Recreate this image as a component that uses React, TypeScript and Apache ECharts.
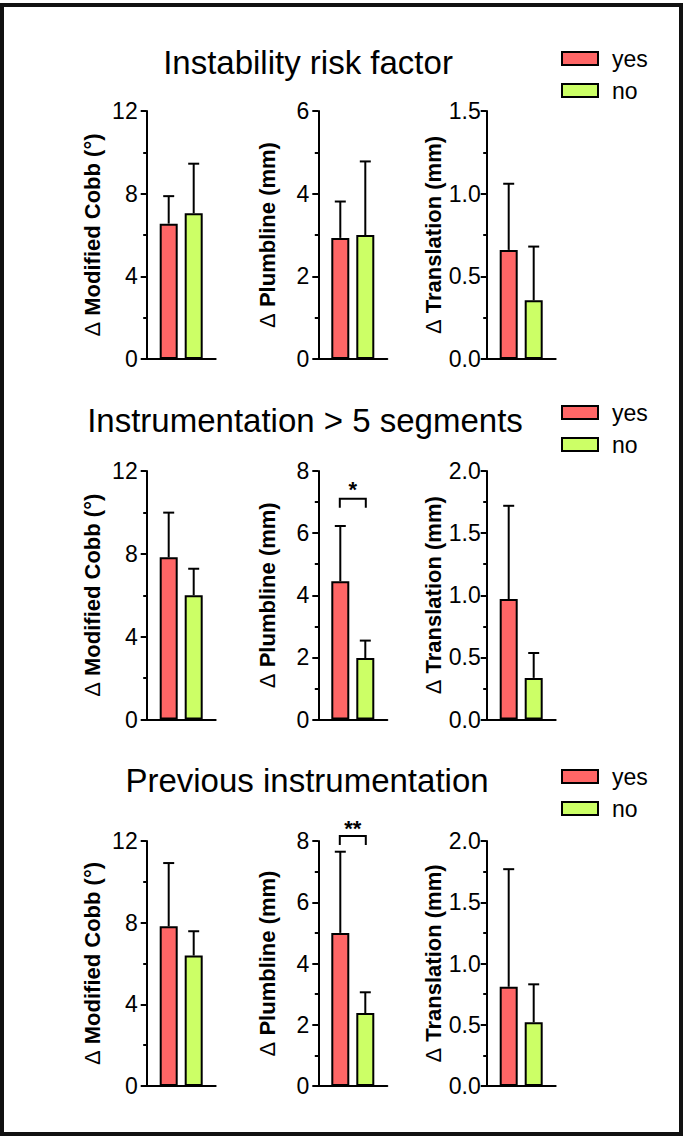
import React, { useEffect, useRef } from "react";
import * as echarts from "echarts";

// ---------- data ----------
const rowTitles = ["Instability risk factor", "Instrumentation > 5 segments", "Previous instrumentation"];
const groups = ["yes", "no"];
const measureNames = ["Modified Cobb (°)", "Plumbline (mm)", "Translation (mm)"];
// rows: instability, instrumentation>5, previous instrumentation; cols: Cobb, Plumbline, Translation
const yesMeans = [
  [6.55, 2.93, 0.66],
  [7.83, 4.45, 0.97],
  [7.82, 5.0, 0.81],
];
const yesSD = [
  [1.33, 0.88, 0.4],
  [2.16, 1.78, 0.75],
  [3.1, 2.65, 0.96],
];
const noMeans = [
  [7.05, 3.0, 0.355],
  [6.0, 1.98, 0.335],
  [6.39, 2.38, 0.52],
];
const noSD = [
  [2.4, 1.78, 0.325],
  [1.28, 0.56, 0.2],
  [1.19, 0.68, 0.31],
];
const axisMax = [
  [12, 6, 1.5],
  [12, 8, 2],
  [12, 8, 2],
];
const axisInterval = [
  [4, 2, 0.5],
  [4, 2, 0.5],
  [4, 2, 0.5],
];
const sigRow = [1, 2];
const sigCol = [1, 1];
const sigLabel = ["*", "**"];
const sigLevel = [7.11, 8.16];
const sigDrop = [6.82, 7.87];
const sigTextLevel = [7.53, 8.55];

// ---------- layout ----------
const FONT = "'Liberation Sans', Arial, Helvetica, sans-serif";
const RED = "#FF6666";
const GREEN = "#CCFF66";
const rowTop = [111, 471, 841];
const rowBottom = [359, 719.5, 1086];
const colLeft = [146.7, 318.3, 486.7];
const gridWidth = 69;
const BAR_W = 18;
const BAR_GAP = 7;
const BAR_STEP = BAR_W + BAR_GAP;
const CAP = 11;
const titleX = [308, 305, 307];
const titleY = [62, 420, 780];
const legendTop = [42, 396, 760];
const nameGaps = [43, 40, 42];
const labelMargins = [9, 9, 6];

function buildOption() {
  const grids: any[] = [];
  const xAxes: any[] = [];
  const yAxes: any[] = [];
  const series: any[] = [];
  for (let r = 0; r < 3; r++) {
    for (let c = 0; c < 3; c++) {
      const idx = r * 3 + c;
      grids.push({
        left: colLeft[c],
        top: rowTop[r],
        width: gridWidth,
        height: rowBottom[r] - rowTop[r],
        containLabel: false,
      });
      xAxes.push({
        type: "category",
        gridIndex: idx,
        data: [""],
        axisLine: { lineStyle: { color: "#000", width: 2 } },
        axisTick: { show: false },
        axisLabel: { show: false },
        splitLine: { show: false },
      });
      const isDecimal = c === 2;
      yAxes.push({
        type: "value",
        gridIndex: idx,
        min: 0,
        max: axisMax[r][c],
        interval: axisInterval[r][c],
        name: "{d|Δ} " + measureNames[c],
        nameLocation: "middle",
        nameRotate: 90,
        nameGap: nameGaps[c],
        nameMoveOverlap: false,
        nameTextStyle: {
          fontFamily: FONT,
          fontSize: 22,
          fontWeight: "bold",
          color: "#000",
          rich: { d: { fontFamily: FONT, fontSize: 22, fontWeight: "normal", color: "#000" } },
        },
        axisLine: { show: true, lineStyle: { color: "#000", width: 2 } },
        axisTick: { show: true, length: 6, lineStyle: { color: "#000", width: 2 } },
        minorTick: { show: true, splitNumber: 2, length: 3.5, lineStyle: { color: "#000", width: 2 } },
        axisLabel: {
          fontFamily: FONT,
          fontSize: 23,
          color: "#000",
          margin: labelMargins[c],
          formatter: (v: number) => (isDecimal ? v.toFixed(1) : String(v)),
        },
        splitLine: { show: false },
        minorSplitLine: { show: false },
      });
      series.push({
        type: "bar",
        name: groups[0],
        xAxisIndex: idx,
        yAxisIndex: idx,
        data: [yesMeans[r][c]],
        barWidth: BAR_W,
        barGap: (BAR_GAP / BAR_W) * 100 + "%",
        itemStyle: { color: RED, borderColor: "#000", borderWidth: 2 },
        emphasis: { disabled: true },
      });
      series.push({
        type: "bar",
        name: groups[1],
        xAxisIndex: idx,
        yAxisIndex: idx,
        data: [noMeans[r][c]],
        barWidth: BAR_W,
        barGap: (BAR_GAP / BAR_W) * 100 + "%",
        itemStyle: { color: GREEN, borderColor: "#000", borderWidth: 2 },
        emphasis: { disabled: true },
      });
      series.push({
        type: "custom",
        name: "err" + idx,
        xAxisIndex: idx,
        yAxisIndex: idx,
        z: 3,
        data: [
          [0, yesMeans[r][c], yesSD[r][c], 0],
          [0, noMeans[r][c], noSD[r][c], 1],
        ],
        renderItem: (params: any, api: any) => {
          const g = api.value(3);
          const mean = api.value(1);
          const sd = api.value(2);
          const base = api.coord([api.value(0), mean]);
          const top = api.coord([api.value(0), mean + sd]);
          const x = base[0] + (g - 0.5) * BAR_STEP;
          const st = { stroke: "#000", lineWidth: 2 };
          return {
            type: "group",
            children: [
              { type: "line", shape: { x1: x, y1: base[1], x2: x, y2: top[1] }, style: st },
              { type: "line", shape: { x1: x - CAP / 2, y1: top[1], x2: x + CAP / 2, y2: top[1] }, style: st },
            ],
          };
        },
      });
    }
  }
  // significance brackets
  for (let k = 0; k < sigRow.length; k++) {
    const idx = sigRow[k] * 3 + sigCol[k];
    series.push({
      type: "custom",
      name: "sig" + k,
      xAxisIndex: idx,
      yAxisIndex: idx,
      clip: false,
      z: 4,
      data: [[0, sigLevel[k], sigDrop[k], sigTextLevel[k]]],
      renderItem: (params: any, api: any) => {
        const p = api.coord([api.value(0), api.value(1)]);
        const d = api.coord([api.value(0), api.value(2)]);
        const t = api.coord([api.value(0), api.value(3)]);
        const x1 = p[0] - 13;
        const x2 = p[0] + 13;
        return {
          type: "group",
          children: [
            {
              type: "polyline",
              shape: { points: [[x1, d[1]], [x1, p[1]], [x2, p[1]], [x2, d[1]]] },
              style: { stroke: "#000", lineWidth: 2, fill: "none" },
            },
            {
              type: "text",
              x: p[0],
              y: t[1] + 4,
              style: {
                text: sigLabel[k],
                fontFamily: FONT,
                fontSize: 22,
                fontWeight: "bold",
                fill: "#000",
                textAlign: "center",
                textVerticalAlign: "middle",
              },
            },
          ],
        };
      },
    });
  }

  const legends = legendTop.map((top) => ({
    data: groups,
    orient: "vertical",
    left: 556,
    top,
    icon: "rect",
    itemWidth: 36,
    itemHeight: 13,
    itemGap: 9,
    selectedMode: false,
    itemStyle: { borderColor: "#000", borderWidth: 2 },
    textStyle: { fontFamily: FONT, fontSize: 23, color: "#000", padding: [0, 0, 0, 9] },
  }));

  const graphics: any[] = [
    {
      type: "rect",
      silent: true,
      shape: { x: 2, y: 5, width: 679, height: 1129 },
      style: { fill: "none", stroke: "#111", lineWidth: 4 },
    },
  ];
  rowTitles.forEach((t, i) => {
    graphics.push({
      type: "text",
      silent: true,
      x: titleX[i],
      y: titleY[i],
      style: {
        text: t,
        fontFamily: FONT,
        fontSize: 33,
        fill: "#000",
        textAlign: "center",
        textVerticalAlign: "middle",
      },
    });
  });

  return {
    animation: false,
    backgroundColor: "#fff",
    grid: grids,
    xAxis: xAxes,
    yAxis: yAxes,
    legend: legends,
    series,
    graphic: graphics,
  };
}

export default function App() {
  const ref = useRef<HTMLDivElement>(null);
  useEffect(() => {
    document.body.style.margin = "0";
    const chart = echarts.init(ref.current!, null, { renderer: "svg" });
    chart.setOption(buildOption() as any);
    return () => chart.dispose();
  }, []);
  return <div ref={ref} style={{ width: 685, height: 1136, background: "#fff" }} />;
}
